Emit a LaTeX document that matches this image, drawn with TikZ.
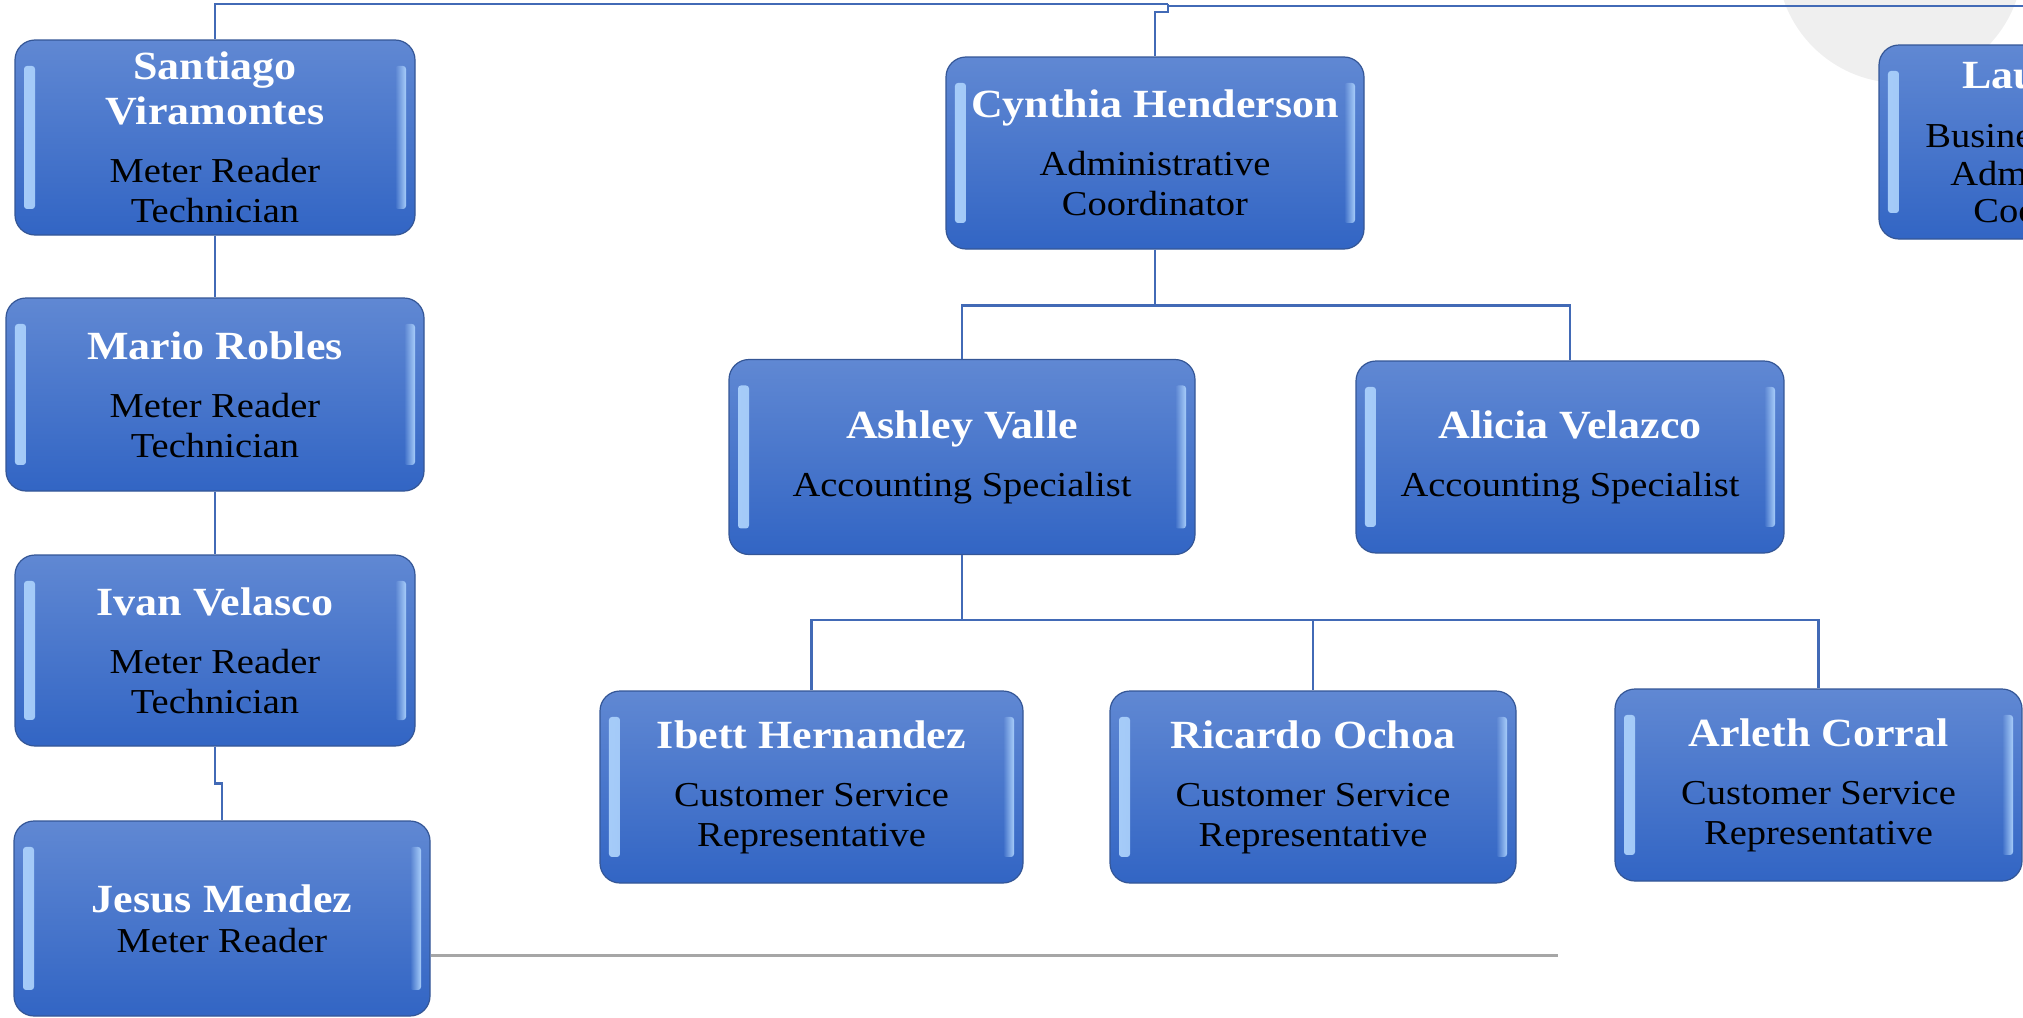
\documentclass[tikz,border=0pt]{standalone}
\usepackage{fontspec}
\usetikzlibrary{fadings}
\setmainfont{Liberation Serif}[FakeStretch=1.1]
\definecolor{boxtop}{RGB}{96,136,211}
\definecolor{boxbot}{RGB}{50,101,196}
\definecolor{boxedge}{RGB}{52,86,150}
\definecolor{hlc}{RGB}{168,206,250}
\definecolor{linkc}{RGB}{66,106,182}
\definecolor{greyline}{RGB}{166,166,166}
\definecolor{circc}{RGB}{239,239,239}
\newcommand\boxname{\fontsize{20pt}{22.5pt}\selectfont\bfseries\color{white}}
\newcommand\boxtitle{\fontsize{17.5pt}{20pt}\selectfont}
\tikzset{
  box/.style={rounded corners=10pt, draw=boxedge, line width=0.6pt,
    top color=boxtop, bottom color=boxbot, align=center, inner sep=0pt,
    font=\boxtitle, text=black,
    path picture={
      \fill[hlc, path fading=east, rounded corners=1.5pt]
        ([xshift=4.5pt,yshift=-13pt]path picture bounding box.north west) rectangle
        ([xshift=10pt,yshift=13pt]path picture bounding box.south west);
      \fill[hlc, path fading=west, rounded corners=1.5pt]
        ([xshift=-10pt,yshift=-13pt]path picture bounding box.north east) rectangle
        ([xshift=-4.5pt,yshift=13pt]path picture bounding box.south east);
    }},
  link/.style={draw=linkc, line width=1.25pt},
  frag/.style={anchor=base west, inner sep=0pt}
}
\begin{document}
\begin{tikzpicture}[x=0.5pt, y=-0.5pt]
\useasboundingbox (0,0) rectangle (2023,1017);
\fill[circc] (1900,-40) circle (61.5pt);

% left column
\node[box, minimum width=200pt, minimum height=97.5pt] (san) at (215,137.5)
  {{\boxname Santiago}\\[2.5pt]{\boxname Viramontes}\\[9pt]Meter Reader\\Technician};
\node[box, minimum width=209pt, minimum height=96.5pt] (mar) at (215,394.5)
  {{\boxname Mario Robles}\\[9pt]Meter Reader\\Technician};
\node[box, minimum width=200pt, minimum height=95.5pt] (iva) at (215,650.5)
  {{\boxname Ivan Velasco}\\[9pt]Meter Reader\\Technician};
\node[box, minimum width=208pt, minimum height=97.5pt] (jes) at (222,918.5)
  {{\boxname Jesus Mendez}\\Meter Reader};

% middle
\node[box, minimum width=209pt, minimum height=96pt] (cyn) at (1155,153)
  {{\boxname Cynthia Henderson}\\[9pt]Administrative\\Coordinator};
\node[box, minimum width=233pt, minimum height=97.5pt] (ash) at (962,457)
  {{\boxname Ashley Valle}\\[9pt]Accounting Specialist};
\node[box, minimum width=214pt, minimum height=96pt] (ali) at (1570,457)
  {{\boxname Alicia Velazco}\\[9pt]Accounting Specialist};
\node[box, minimum width=211.5pt, minimum height=96pt] (ibe) at (811.5,787)
  {{\boxname Ibett Hernandez}\\[9pt]Customer Service\\Representative};
\node[box, minimum width=203pt, minimum height=96pt] (ric) at (1313,787)
  {{\boxname Ricardo Ochoa}\\[9pt]Customer Service\\Representative};
\node[box, minimum width=203.5pt, minimum height=96pt] (arl) at (1818.5,785)
  {{\boxname Arleth Corral}\\[9pt]Customer Service\\Representative};

% right, cut off by the page edge
\node[box, minimum width=189pt, minimum height=97pt] (lau) at (2068,142) {};
\node[frag] (lauN) at (1962,88) {\boxname Lau};
\node[frag, font=\boxtitle] (lauT1) at (1925,147) {Busine};
\node[frag, font=\boxtitle] (lauT2) at (1950,185) {Adm};
\node[frag, font=\boxtitle] (lauT3) at (1973,222) {Coo};

% connectors
\coordinate (hubL) at (1168,4);
\coordinate (hubR) at (1168,6);
\draw[link] (hubL) -| (san.north);
\draw[link] (hubR) -| (lau.north);
\draw[link] (hubL) -- ++(0,8) -| (cyn.north);
\draw[link] (san.south) -- (mar.north);
\draw[link] (mar.south) -- (iva.north);
\draw[link] (iva.south) -- ++(0,37) -| (jes.north);
\draw[link] (cyn.south) -- ++(0,56) -| (ash.north);
\draw[link] (cyn.south) -- ++(0,56) -| (ali.north);
\draw[link] (ash.south) -- ++(0,65) -| (ibe.north);
\draw[link] (ash.south) -- ++(0,65) -| (ric.north);
\draw[link] (ash.south) -- ++(0,65) -| (arl.north);

\coordinate (gEnd) at (1558,955);
\draw[greyline, line width=1.5pt] (jes.east |- gEnd) -- (gEnd);
\end{tikzpicture}
\end{document}
